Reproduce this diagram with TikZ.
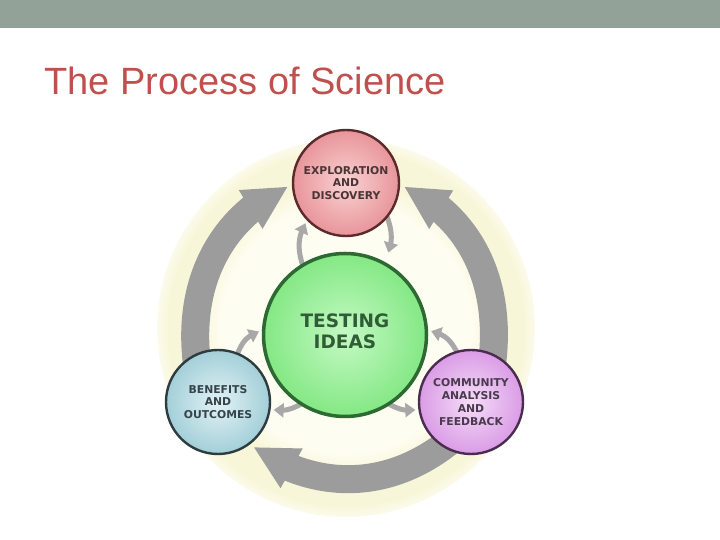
\documentclass[tikz,border=0pt]{standalone}
\usepackage{fontspec}
\setmainfont{Liberation Sans}
\newfontfamily\dvbold{DejaVu Sans}[BoldFont=* Bold]
\usetikzlibrary{arrows.meta,bending,backgrounds}
\definecolor{barcol}{HTML}{93A299}
\definecolor{titlered}{HTML}{C0504D}
\definecolor{arrowgray}{HTML}{9C9C9C}
\definecolor{smallgray}{HTML}{A8A8A8}
\definecolor{creamA}{HTML}{FEFDF1}
\definecolor{yellB}{HTML}{F8F6D8}
\definecolor{yellC}{HTML}{FCFBEC}
\definecolor{white}{HTML}{FFFFFF}
\definecolor{redIn}{HTML}{F9D2D3}
\definecolor{redOut}{HTML}{E8959A}
\definecolor{redLine}{HTML}{5A2A2C}
\definecolor{redText}{HTML}{4A3536}
\definecolor{blueIn}{HTML}{E2F2F5}
\definecolor{blueOut}{HTML}{A3CFD8}
\definecolor{blueLine}{HTML}{2E3C40}
\definecolor{blueText}{HTML}{36434A}
\definecolor{purIn}{HTML}{F5DDF8}
\definecolor{purOut}{HTML}{DA9CE6}
\definecolor{purLine}{HTML}{4A2C4E}
\definecolor{purText}{HTML}{4A3A4E}
\definecolor{grnIn}{HTML}{C4F9C4}
\definecolor{grnOut}{HTML}{84E884}
\definecolor{grnLine}{HTML}{2D6A33}
\definecolor{grnText}{HTML}{2F5E36}
\pgfdeclareradialshading{yelldisc}{\pgfpoint{0bp}{0bp}}{color(0bp)=(creamA); color(16.5bp)=(creamA); color(19.5bp)=(yellB); color(23.5bp)=(yellB); color(25bp)=(yellC); color(50bp)=(white)}
\begin{document}
\begin{tikzpicture}[x=1pt,y=1pt,
  satellite/.style={circle, inner sep=0pt, minimum size=104pt, line width=2.4pt, align=center,
     font=\dvbold\bfseries\fontsize{10.8}{12.8}\selectfont},
  bigarrow/.style={draw=arrowgray, line width=28pt, looseness=0.95,
     -{Triangle[width=42pt,length=44pt]}, shorten <=-14pt, shorten >=4pt},
  smallarrow/.style={draw=smallgray, line width=5pt,
     -{Triangle[width=14pt,length=10pt]}, shorten <=-3pt, shorten >=3pt}]
\useasboundingbox (0,0) rectangle (720,540);
\fill[barcol] (0,512) rectangle (720,540);
\node[anchor=base west, inner sep=0pt, text=titlered, font=\fontsize{38}{38}\selectfont] (title) at (44,445) {The Process of Science};

\node[circle, inner sep=0pt, minimum size=163pt, line width=3.5pt, draw=grnLine,
      inner color=grnIn, outer color=grnOut,
      label={[text=grnText, align=center, font=\dvbold\bfseries\fontsize{18.5}{21}\selectfont, yshift=4pt]center:TESTING\\IDEAS}] (green) at (345,205) {};
\node[satellite, minimum size=106pt, draw=redLine, inner color=redIn, outer color=redOut, text=redText] (red) at (346,357) {EXPLORATION\\AND\\DISCOVERY};
\node[satellite, draw=blueLine, inner color=blueIn, outer color=blueOut, text=blueText] (blue) at (218,138) {BENEFITS\\AND\\OUTCOMES};
\node[satellite, draw=purLine, inner color=purIn, outer color=purOut, text=purText] (purple) at (471,138) {COMMUNITY\\ANALYSIS\\AND\\FEEDBACK};

\begin{scope}[on background layer]
  \shade[shading=yelldisc] (346,212) circle (189);
  \draw[bigarrow] (blue.115) to[out=98, in=202] (red.182);
  \draw[bigarrow] (purple.65) to[out=82, in=-22] (red.-2);
  \draw[bigarrow] (purple.238) to[out=220, in=-38] (blue.-53);
  \draw[smallarrow] (green.121) to[bend left=25] (red.224);
  \draw[smallarrow, shorten >=10pt] (red.-40) to[bend left=25] (green.62);
  \draw[smallarrow] (blue.68) to[bend left=28] (green.177);
  \draw[smallarrow] (green.237) to[bend left=20] (blue.-8);
  \draw[smallarrow] (purple.106) to[bend right=28] (green.3);
  \draw[smallarrow] (green.-57) to[bend right=20] (purple.188);
\end{scope}
\end{tikzpicture}
\end{document}
